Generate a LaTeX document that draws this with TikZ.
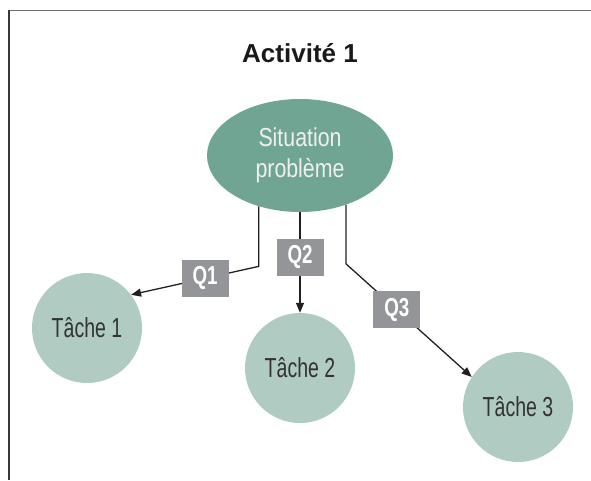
\documentclass[tikz,border=0pt]{standalone}
\usepackage{fontspec}
\setmainfont{Liberation Sans}
\newfontfamily\condfont{Liberation Sans}[FakeStretch=0.82]
\newfontfamily\tachefont{Liberation Sans}[FakeStretch=0.71]
\newfontfamily\qfont{Liberation Sans}[FakeStretch=0.72]
\usetikzlibrary{shapes.geometric,arrows.meta}
\definecolor{sitcol}{HTML}{6FA592}
\definecolor{tachecol}{HTML}{B0CCC2}
\definecolor{qcol}{HTML}{939598}
\definecolor{linecol}{HTML}{231F20}
\definecolor{tachetext}{HTML}{333333}
\begin{document}
\begin{tikzpicture}[x=1pt,y=-1pt,
  sitnode/.style={ellipse, fill=sitcol, minimum width=186, minimum height=113, inner sep=0,
    text=white!94!black, align=center, font=\condfont\fontsize{26}{31}\selectfont},
  tache/.style={circle, fill=tachecol, minimum size=110, inner sep=0,
    text=tachetext, font=\tachefont\fontsize{27.5}{30}\selectfont},
  qbox/.style={fill=qcol, minimum width=47, minimum height=37, inner sep=0,
    text=white, font=\qfont\bfseries\fontsize{26}{28}\selectfont},
  conn/.style={draw=linecol, line width=1.3, -{Triangle[length=10,width=8]}}
]
\useasboundingbox (0,0) rectangle (591,480);
% frame
\draw[color=black!58, line width=1.8] (591,10.5) -- (8.2,10.5);
\draw[color=black!78, line width=1.8] (9,9.6) -- (9,480);

\node[font=\bfseries\fontsize{26}{28}\selectfont, text=black!90] (title) at (300,53) {Activité 1};

\node[sitnode] (sit) at (300,155.5) {Situation\\problème};
\node[tache] (t1) at (87,328) {Tâche 1};
\node[tache] (t2) at (300,368) {Tâche 2};
\node[tache] (t3) at (518,407) {Tâche 3};

\draw[conn] (sit.231) -- ++(0,60) coordinate (c1) -- node[qbox, pos=0.42] (q1) {Q1} (t1.37);
\draw[conn] (sit.south) -- node[qbox, pos=0.45] (q2) {Q2} (t2.north);
\draw[conn] (sit.313) -- ++(0,59) coordinate (c3) -- node[qbox, pos=0.405] (q3) {Q3} (t3.147);
\end{tikzpicture}
\end{document}
